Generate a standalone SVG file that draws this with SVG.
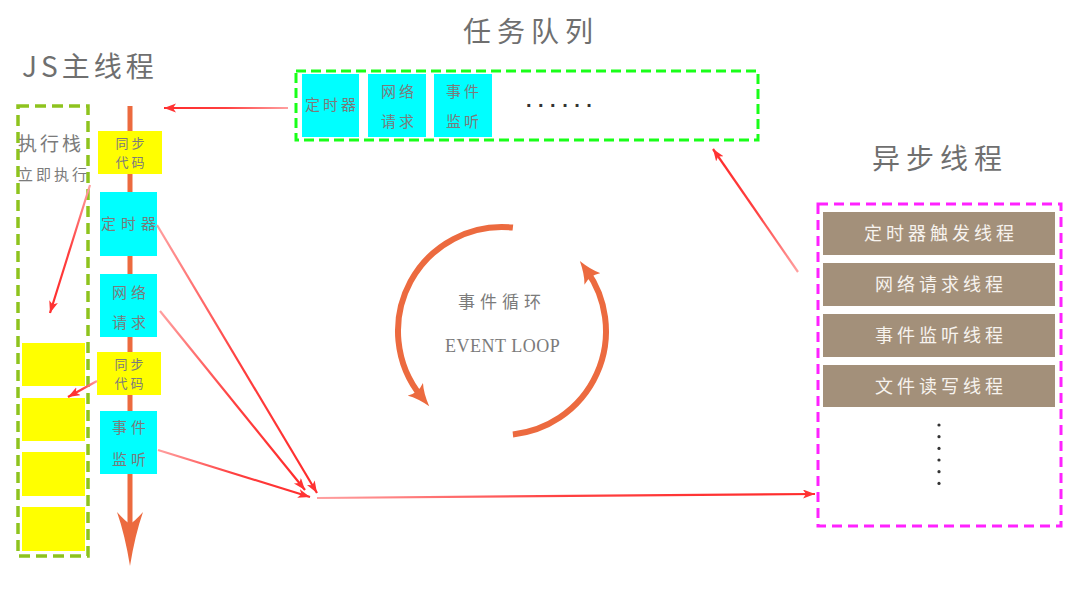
<svg xmlns="http://www.w3.org/2000/svg" width="1080" height="606" viewBox="0 0 1080 606">
<defs>
<style>
.t{font-family:"Noto Sans CJK SC","Noto Sans",sans-serif;fill:#7b7b7b}
.title{font-size:28px;fill:#6f6f6f;letter-spacing:6px}
.s{font-size:15px;letter-spacing:3px;text-anchor:middle}
.sy{font-size:13px;letter-spacing:3px;text-anchor:middle}
.th{font-size:18px;fill:#f7f3ee;letter-spacing:4px;text-anchor:middle}
.y{fill:#ffff00}
.c{fill:#00ffff}
.b{fill:#a3907a}
.red{fill:none;stroke-width:2.2}
.orange{fill:none;stroke:#ec6a3f;stroke-width:6}
</style>
<marker id="ah" markerUnits="userSpaceOnUse" markerWidth="13" markerHeight="10" refX="12" refY="4.5" orient="auto">
<path d="M0,0 L12,4.5 L0,9 L3,4.5 Z" fill="#ff3333"/>
</marker>
<marker id="oh" markerUnits="userSpaceOnUse" markerWidth="24" markerHeight="20" refX="10" refY="10" orient="auto">
<path d="M0,0 Q8,6 22,10 Q8,14 0,20 Q5,10 0,0 Z" fill="#ec6a3f"/>
</marker>
<linearGradient id="g1" gradientUnits="userSpaceOnUse" x1="288" y1="108" x2="164" y2="108"><stop offset="0" stop-color="#ffa0a0"/><stop offset="0.5" stop-color="#ff4040"/><stop offset="1" stop-color="#ff2a2a"/></linearGradient>
<linearGradient id="g2" gradientUnits="userSpaceOnUse" x1="798" y1="272" x2="713" y2="149"><stop offset="0" stop-color="#ffa0a0"/><stop offset="0.5" stop-color="#ff4040"/><stop offset="1" stop-color="#ff2a2a"/></linearGradient>
<linearGradient id="g3" gradientUnits="userSpaceOnUse" x1="90" y1="185" x2="50" y2="313"><stop offset="0" stop-color="#ffa0a0"/><stop offset="0.5" stop-color="#ff4040"/><stop offset="1" stop-color="#ff2a2a"/></linearGradient>
<linearGradient id="g4" gradientUnits="userSpaceOnUse" x1="97" y1="381" x2="68" y2="397"><stop offset="0" stop-color="#ffa0a0"/><stop offset="0.5" stop-color="#ff4040"/><stop offset="1" stop-color="#ff2a2a"/></linearGradient>
<linearGradient id="g5" gradientUnits="userSpaceOnUse" x1="157" y1="225" x2="317" y2="493"><stop offset="0" stop-color="#ffa0a0"/><stop offset="0.5" stop-color="#ff4040"/><stop offset="1" stop-color="#ff2a2a"/></linearGradient>
<linearGradient id="g6" gradientUnits="userSpaceOnUse" x1="160" y1="311" x2="305" y2="490"><stop offset="0" stop-color="#ffa0a0"/><stop offset="0.5" stop-color="#ff4040"/><stop offset="1" stop-color="#ff2a2a"/></linearGradient>
<linearGradient id="g7" gradientUnits="userSpaceOnUse" x1="158" y1="450" x2="310" y2="497"><stop offset="0" stop-color="#ffa0a0"/><stop offset="0.5" stop-color="#ff4040"/><stop offset="1" stop-color="#ff2a2a"/></linearGradient>
<linearGradient id="g8" gradientUnits="userSpaceOnUse" x1="317" y1="498" x2="815" y2="494"><stop offset="0" stop-color="#ffa0a0"/><stop offset="0.5" stop-color="#ff4040"/><stop offset="1" stop-color="#ff2a2a"/></linearGradient>
</defs>
<rect width="1080" height="606" fill="#ffffff"/>

<g id="title-js"><text class="t title" x="22" y="77" style="letter-spacing:4px">JS主线程</text></g>

<g id="call-stack">
<rect x="18" y="106" width="70" height="450" fill="none" stroke="#8ec31e" stroke-width="3.5" stroke-dasharray="11 6"/>
<text class="t" x="18" y="151" font-size="19" style="letter-spacing:3px">执行栈</text>
<text class="t" x="18" y="180" font-size="15" style="letter-spacing:3px">立即执行</text>
</g>
<g id="stack-block-1"><rect class="y" x="22" y="343" width="63" height="43"/></g>
<g id="stack-block-2"><rect class="y" x="22" y="398" width="63" height="43"/></g>
<g id="stack-block-3"><rect class="y" x="22" y="452" width="63" height="44"/></g>
<g id="stack-block-4"><rect class="y" x="22" y="507" width="63" height="44"/></g>

<g id="main-thread">
<line x1="130" y1="106" x2="130" y2="528" stroke="#ec6a3f" stroke-width="5"/>
<path d="M130,566 Q125,535 117,512 Q125,521 130,524 Q135,521 143,512 Q135,535 130,566 Z" fill="#ec6a3f"/>
</g>
<g id="main-sync-1"><rect class="y" x="98" y="131" width="64" height="43"/>
<text class="t sy" x="131.5" y="148">同步</text><text class="t sy" x="131.5" y="167">代码</text></g>
<g id="main-timer"><rect class="c" x="100" y="192" width="57" height="64"/>
<text class="t s" x="131" y="229" style="letter-spacing:5px">定时器</text></g>
<g id="main-network"><rect class="c" x="100" y="274" width="57" height="63"/>
<text class="t s" x="131" y="298" style="letter-spacing:4px">网络</text><text class="t s" x="131" y="328" style="letter-spacing:4px">请求</text></g>
<g id="main-sync-2"><rect class="y" x="97" y="352" width="64" height="43"/>
<text class="t sy" x="130.5" y="369">同步</text><text class="t sy" x="130.5" y="388">代码</text></g>
<g id="main-event"><rect class="c" x="100" y="411" width="57" height="63"/>
<text class="t s" x="131" y="433" style="letter-spacing:4px">事件</text><text class="t s" x="131" y="465" style="letter-spacing:4px">监听</text></g>

<g id="task-queue">
<text class="t title" x="463" y="42">任务队列</text>
<rect x="296" y="71" width="462" height="69" fill="none" stroke="#19ff19" stroke-width="3" stroke-dasharray="10 5"/>
<text x="526" y="107" font-family="Liberation Sans, sans-serif" font-size="20" font-weight="bold" fill="#333" style="letter-spacing:6.5px">......</text>
</g>
<g id="tq-timer"><rect class="c" x="302" y="74" width="57" height="63"/>
<text class="t s" x="332" y="110">定时器</text></g>
<g id="tq-network"><rect class="c" x="368" y="74" width="58" height="63"/>
<text class="t s" x="399" y="97">网络</text><text class="t s" x="399" y="127">请求</text></g>
<g id="tq-event"><rect class="c" x="434" y="74" width="58" height="63"/>
<text class="t s" x="464" y="97">事件</text><text class="t s" x="464" y="127">监听</text></g>

<g id="event-loop">
<path class="orange" d="M512.9,227.6 A104,104 0 0 0 421.6,397" marker-end="url(#oh)"/>
<path class="orange" d="M512.9,434.4 A104,104 0 0 0 586.8,270.8" marker-end="url(#oh)"/>
<text class="t" x="458" y="308" font-size="17" style="letter-spacing:5px">事件循环</text>
<text x="445" y="352" font-family="Liberation Serif, serif" font-size="18" fill="#7b7b7b" style="letter-spacing:0.5px">EVENT LOOP</text>
</g>

<g id="async-threads">
<text class="t title" x="872" y="169">异步线程</text>
<rect x="818" y="204" width="243" height="322" fill="none" stroke="#ff22ff" stroke-width="3" stroke-dasharray="10 6"/>
<g fill="#333"><circle cx="939" cy="425" r="1.6"/><circle cx="939" cy="436.7" r="1.6"/><circle cx="939" cy="448.4" r="1.6"/><circle cx="939" cy="460" r="1.6"/><circle cx="939" cy="471.7" r="1.6"/><circle cx="939" cy="483.4" r="1.6"/></g>
</g>
<g id="thread-timer"><rect class="b" x="823" y="212" width="232" height="43"/><text class="t th" x="941" y="240">定时器触发线程</text></g>
<g id="thread-network"><rect class="b" x="823" y="263" width="232" height="43"/><text class="t th" x="941" y="291">网络请求线程</text></g>
<g id="thread-event"><rect class="b" x="823" y="314" width="232" height="43"/><text class="t th" x="941" y="342">事件监听线程</text></g>
<g id="thread-file"><rect class="b" x="823" y="365" width="232" height="42"/><text class="t th" x="941" y="393">文件读写线程</text></g>

<g id="connectors">
<path class="red" stroke="url(#g1)" d="M288,108 L164,108" marker-end="url(#ah)"/>
<path class="red" stroke="url(#g2)" d="M798,272 L713,149" marker-end="url(#ah)"/>
<path class="red" stroke="url(#g3)" d="M90,185 L50,313" marker-end="url(#ah)"/>
<path class="red" stroke="url(#g4)" d="M97,381 L68,397" marker-end="url(#ah)"/>
<path class="red" stroke="url(#g5)" d="M157,225 L317,493" marker-end="url(#ah)"/>
<path class="red" stroke="url(#g6)" d="M160,311 L305,490" marker-end="url(#ah)"/>
<path class="red" stroke="url(#g7)" d="M158,450 L310,497" marker-end="url(#ah)"/>
<path class="red" stroke="url(#g8)" d="M317,498 L815,494" marker-end="url(#ah)"/>
</g>
</svg>
